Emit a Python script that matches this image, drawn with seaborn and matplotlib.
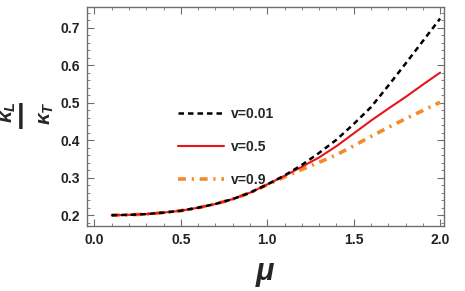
import numpy as np
import pandas as pd
import seaborn as sns
import matplotlib
matplotlib.use("Agg")
import matplotlib.pyplot as plt
from matplotlib.ticker import MultipleLocator, FormatStrFormatter

# ---- data ----
mu = [0.1, 0.2, 0.3, 0.4, 0.5, 0.6, 0.7, 0.8, 0.9, 1.0, 1.1,
      1.2, 1.3, 1.4, 1.5, 1.6, 1.7, 1.8, 1.9, 2.0]
k_v001 = [0.200, 0.201, 0.203, 0.207, 0.212, 0.220, 0.230, 0.243, 0.260, 0.282, 0.306,
          0.334, 0.366, 0.401, 0.443, 0.488, 0.545, 0.604, 0.664, 0.724]
k_v05 = [0.200, 0.201, 0.203, 0.207, 0.212, 0.220, 0.230, 0.243, 0.260, 0.282, 0.305,
         0.329, 0.354, 0.384, 0.418, 0.452, 0.484, 0.515, 0.548, 0.580]
k_v09 = [0.200, 0.201, 0.203, 0.207, 0.212, 0.220, 0.230, 0.243, 0.260, 0.281, 0.302,
         0.322, 0.341, 0.361, 0.385, 0.410, 0.434, 0.457, 0.479, 0.501]
labels = ["v=0.01", "v=0.5", "v=0.9"]

df = pd.DataFrame({
    "mu": mu * 3,
    "k": k_v001 + k_v05 + k_v09,
    "v": [labels[0]] * len(mu) + [labels[1]] * len(mu) + [labels[2]] * len(mu),
})

sns.set_theme(style="ticks")
plt.rcParams["font.family"] = ["Liberation Sans", "DejaVu Sans"]
plt.rcParams["mathtext.fontset"] = "custom"
plt.rcParams["mathtext.rm"] = "Liberation Sans:bold:italic"
plt.rcParams["mathtext.it"] = "Liberation Sans:bold:italic"
plt.rcParams["mathtext.bf"] = "Liberation Sans:bold:italic"

fig = plt.figure(figsize=(4.65, 2.91), dpi=100)
ax = fig.add_axes([0.187, 0.223, 0.768, 0.753])

styles = {
    labels[0]: dict(color="black", lw=1.8, dashes=(2.2, 1.6)),
    labels[1]: dict(color="#E8141B", lw=1.5, dashes=()),
    labels[2]: dict(color="#F28C28", lw=2.6, dashes=(2.2, 1.6, 0.6, 1.6)),
}
order = [labels[2], labels[1], labels[0]]
for lab in order:
    st = styles[lab]
    sub = df[df["v"] == lab]
    sns.lineplot(data=sub, x="mu", y="k", ax=ax, color=st["color"], lw=st["lw"],
                 label=lab, legend=False)
    line = ax.lines[-1]
    if st["dashes"]:
        line.set_dashes(st["dashes"])
        line.set_dash_capstyle("butt")

ax.set_xlim(-0.043, 2.023)
ax.set_ylim(0.171, 0.755)

ax.xaxis.set_major_locator(MultipleLocator(0.5))
ax.xaxis.set_minor_locator(MultipleLocator(0.1))
ax.yaxis.set_major_locator(MultipleLocator(0.1))
ax.yaxis.set_minor_locator(MultipleLocator(0.02))
ax.xaxis.set_major_formatter(FormatStrFormatter("%.1f"))
ax.yaxis.set_major_formatter(FormatStrFormatter("%.1f"))

frame_c = "#6e6e6e"
for s in ax.spines.values():
    s.set_color(frame_c)
    s.set_linewidth(1.0)
ax.tick_params(which="both", direction="in", top=True, right=True, color=frame_c)
ax.tick_params(which="major", length=5, width=0.8, labelsize=10, pad=5)
ax.tick_params(which="minor", length=2.5, width=0.6)
for t in ax.get_xticklabels() + ax.get_yticklabels():
    t.set_fontweight("bold")
    t.set_color("#222222")

ax.set_xlabel("")
ax.set_ylabel("")
fig.text(265 / 465, 1 - 272 / 291, "μ", fontsize=22, fontweight="bold",
         fontstyle="italic", ha="center", va="center")
# y label drawn as in the reference: kappa_L, bar, kappa_T (rotated)
fig.text(8 / 465, 1 - 112 / 291, r"$\kappa_L$", fontsize=15,
         rotation=90, ha="center", va="center")
fig.text(21 / 465, 1 - 116 / 291, "|", fontsize=20, fontweight="bold",
         rotation=0, ha="center", va="center")
fig.text(46 / 465, 1 - 113 / 291, r"$\kappa_T$", fontsize=15,
         rotation=90, ha="center", va="center")

# legend
handles = {l.get_label(): l for l in ax.lines}
leg = ax.legend([handles[l] for l in labels], labels, loc="upper left",
                bbox_to_anchor=(0.22, 0.6), frameon=False, handlelength=3.3,
                labelspacing=1.35, handletextpad=0.5,
                prop={"weight": "bold", "size": 10})

fig.savefig("out.png", dpi=100)
